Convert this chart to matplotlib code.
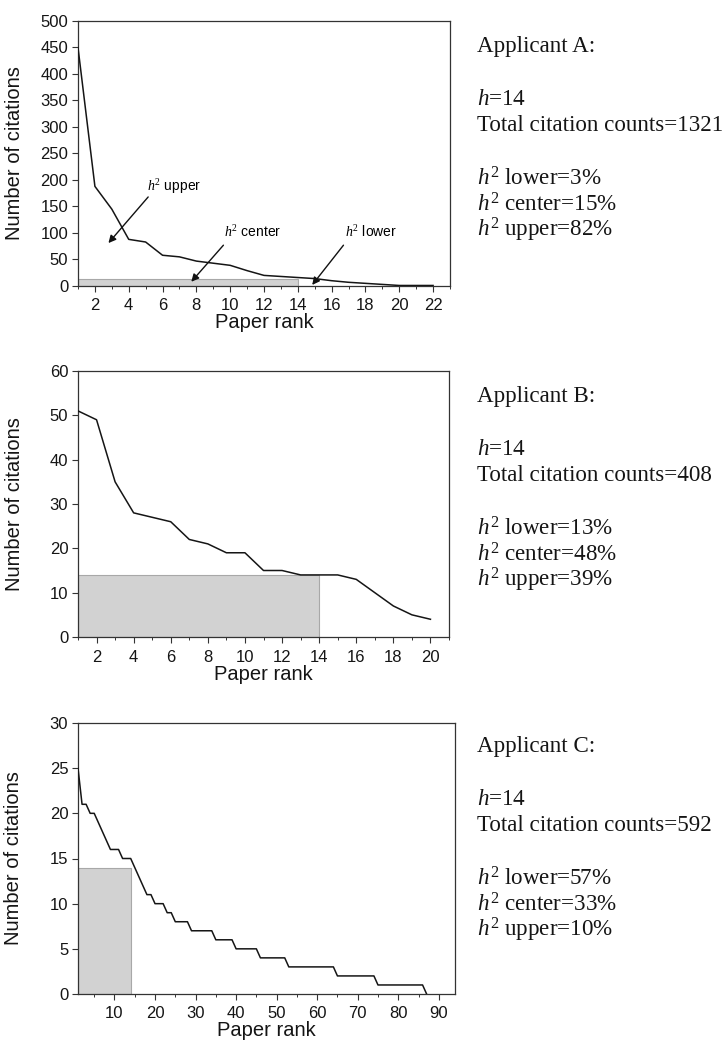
import matplotlib
matplotlib.use('Agg')
import matplotlib.pyplot as plt
from matplotlib.patches import Rectangle
from matplotlib.ticker import MultipleLocator

plt.rcParams['font.family'] = ['Liberation Sans', 'DejaVu Sans']
plt.rcParams['mathtext.fontset'] = 'custom'
plt.rcParams['mathtext.rm'] = 'Liberation Serif'
plt.rcParams['mathtext.it'] = 'Liberation Serif:italic'

# citations per paper, sorted by rank
cites_a = [450, 188, 145, 88, 83, 58, 55, 47, 43, 39, 29, 20, 18, 16,
           14, 10, 7, 5, 3, 1, 1, 1]
cites_b = [51, 49, 35, 28, 27, 26, 22, 21, 19, 19, 15, 15, 14, 14,
           14, 13, 10, 7, 5, 4]
cites_c = [25, 21, 21, 20, 20, 19, 18, 17, 16, 16, 16, 15, 15, 15,
           14, 13, 12, 11, 11, 10, 10, 10, 9, 9, 8, 8, 8, 8,
           7, 7, 7, 7, 7, 7, 6, 6, 6, 6, 6, 5, 5, 5, 5, 5, 5,
           4, 4, 4, 4, 4, 4, 4, 3, 3, 3, 3, 3, 3, 3, 3, 3, 3, 3, 3,
           2, 2, 2, 2, 2, 2, 2, 2, 2, 2, 1, 1, 1, 1, 1, 1, 1, 1, 1, 1, 1, 1, 0]
h_index = 14

applicants = ['A', 'B', 'C']
totals = [1321, 408, 592]
h2_lower = [3, 13, 57]
h2_center = [15, 48, 33]
h2_upper = [82, 39, 10]

W, H = 726, 1043
fig = plt.figure(figsize=(W / 100, H / 100), dpi=100)

def px_axes(l, t, r, b):
    return fig.add_axes([l / W, 1 - b / H, (r - l) / W, (b - t) / H])

ax_a = px_axes(78, 21, 450, 286)
ax_b = px_axes(78, 371, 449, 637)
ax_c = px_axes(78, 723, 455, 994)

setups = [
    (ax_a, cites_a, (1, 23), (0, 500), 2, 1, 50),
    (ax_b, cites_b, (1, 21), (0, 60), 2, 1, 10),
    (ax_c, cites_c, (1, 94), (0, 30), 10, 5, 5),
]

for ax, cites, xl, yl, xmaj, xmin, ymaj in setups:
    ranks = list(range(1, len(cites) + 1))
    ax.add_patch(Rectangle((1, 0), h_index - 1, h_index, facecolor='#d2d2d2',
                           edgecolor='#a8a8a8', lw=0.8, zorder=1))
    ax.plot(ranks, cites, color='#151515', lw=1.1, zorder=3)
    ax.set_xlim(*xl)
    ax.set_ylim(*yl)
    ax.xaxis.set_major_locator(MultipleLocator(xmaj))
    ax.xaxis.set_minor_locator(MultipleLocator(xmin))
    ax.yaxis.set_major_locator(MultipleLocator(ymaj))
    ax.tick_params(axis='both', which='major', direction='out', length=4,
                   width=0.8, labelsize=12, color='#333333', labelcolor='#151515')
    ax.tick_params(axis='x', which='major', pad=5)
    ax.tick_params(axis='x', which='minor', direction='out', length=2.5,
                   width=0.7, color='#333333')
    ax.tick_params(axis='y', which='major', pad=3)
    for s in ax.spines.values():
        s.set_color('#333333')
        s.set_linewidth(0.9)
    ax.set_xlabel('Paper rank', fontsize=14.5, labelpad=0, color='#151515')
    ax.set_ylabel('Number of citations', fontsize=14.5, color='#151515')
    ax.yaxis.set_label_coords(-0.145, 0.5)

# C axis labels: 10..90 only
ax_c.set_xticks(range(10, 91, 10))

# arrows and labels on panel A
arrow_kw = dict(arrowstyle='-|>', color='#111111', lw=1.0,
                mutation_scale=11, shrinkA=0, shrinkB=0)
ax_a.annotate('', xy=(2.8, 81), xytext=(5.15, 168), arrowprops=arrow_kw)
ax_a.annotate('', xy=(7.7, 8), xytext=(9.6, 77), arrowprops=arrow_kw)
ax_a.annotate('', xy=(14.85, 2), xytext=(16.7, 77), arrowprops=arrow_kw)
ax_a.text(5.1, 187, r'$h^2$ upper', fontsize=10, va='center')
ax_a.text(9.65, 102, r'$h^2$ center', fontsize=10, va='center')
ax_a.text(16.8, 102, r'$h^2$ lower', fontsize=10, va='center')

# right-hand text blocks
serif = dict(fontsize=16.6, family='Liberation Serif', va='baseline', ha='left',
             color='#151515')
bases = [45, 395, 745]
offsets = [0, 53, 79, 133, 159, 185]
for i, name in enumerate(applicants):
    lines = [
        f'Applicant {name}:',
        r'$h$=' + str(h_index),
        f'Total citation counts={totals[i]}',
        r'$h^2$ lower=' + f'{h2_lower[i]}%',
        r'$h^2$ center=' + f'{h2_center[i]}%',
        r'$h^2$ upper=' + f'{h2_upper[i]}%',
    ]
    for off, txt in zip(offsets, lines):
        y = bases[i] + off + 7
        fig.text(477 / W, 1 - y / H, txt, **serif)

fig.savefig('out.png', dpi=100)
